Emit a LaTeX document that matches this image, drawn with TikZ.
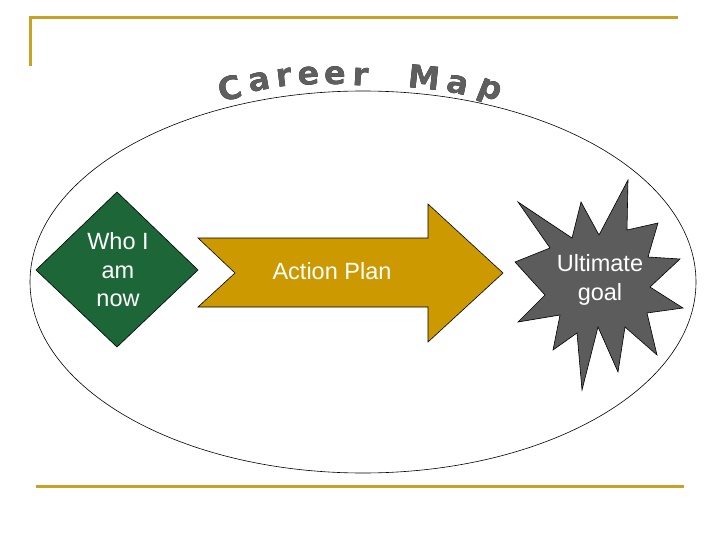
\documentclass[tikz,border=0pt]{standalone}
\usepackage{fontspec}
\setmainfont{Liberation Sans}
\newfontfamily\titlefont{DejaVu Sans}
\usepackage[outline]{contour}
\contourlength{0.6pt}
\definecolor{goldline}{RGB}{201,161,37}
\definecolor{arrowgold}{RGB}{204,153,0}
\definecolor{dkgreen}{RGB}{28,102,56}
\definecolor{stargray}{RGB}{92,92,92}
\definecolor{titlegray}{RGB}{95,95,95}
\begin{document}
\begin{tikzpicture}[x=1pt,y=-1pt,
  rule/.style={draw=goldline,line width=3pt},
  shapeline/.style={draw=black,line width=0.6pt},
  lbl/.style={text=white,font=\fontsize{23.5}{28.5}\selectfont,align=center,inner sep=0pt},
  ttl/.style={inner sep=0pt,font=\titlefont\fontsize{32}{32}\selectfont\bfseries}]
\useasboundingbox (0,0) rectangle (720,540);
% frame rules
\draw[rule] (30,66) -- (30,18) -- (678,18);
\draw[rule] (36,486) -- (684,486);
% ellipse
\draw[line width=0.6pt] (363,282) ellipse [x radius=333, y radius=191];
% title letters
\foreach \ch/\px/\py/\ang [count=\i] in {C/230/88/14, a/260/82/10, r/284/78/7, e/309/76/3, e/335/76/0, r/361/77/-3, M/425/78/-6, a/458/85/-12, p/489/93/-22}
  \node[ttl,rotate=\ang] (t\i) at (\px,\py) {\contour{black}{\textcolor{titlegray}{\ch}}};
% diamond
\filldraw[shapeline,fill=dkgreen] (117,192) -- (198,270) -- (117,347) -- (36,270) -- cycle;
\node[lbl] (who) at (118,270) {Who I\\am\\now};
% notched arrow
\filldraw[shapeline,fill=arrowgold] (198,238) -- (428,238) -- (428,204) -- (503,273) -- (428,342) -- (428,307) -- (198,307) -- (235,273) -- cycle;
\node[lbl] (act) at (332,271) {Action Plan};
% starburst
\filldraw[shapeline,fill=stargray]
  (518,202) -- (572,238) -- (581,202) -- (599,235) -- (628,180) -- (627,230)
  -- (658,223) -- (648,257) -- (680,259) -- (650,287) -- (683,308) -- (647,313)
  -- (657,355) -- (625,327) -- (618,372) -- (598,327) -- (582,390) -- (577,333)
  -- (553,350) -- (560,315) -- (518,322) -- (545,295) -- (515,262) -- (550,248) -- cycle;
\node[lbl] (goal) at (600,280) {Ultimate\\goal};
\end{tikzpicture}
\end{document}
